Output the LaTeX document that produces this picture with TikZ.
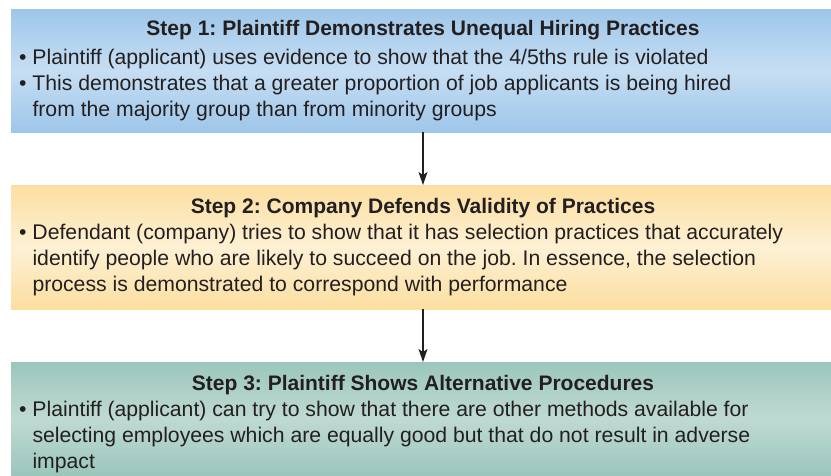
\documentclass[tikz,border=0pt]{standalone}
\usepackage{fontspec}
\setmainfont{Liberation Sans}
\usetikzlibrary{arrows.meta,positioning}
\definecolor{ink}{RGB}{35,31,32}
\definecolor{blueEdge}{RGB}{158,198,233}
\definecolor{blueMid}{RGB}{198,222,243}
\definecolor{sandEdge}{RGB}{252,222,160}
\definecolor{sandMid}{RGB}{253,241,212}
\definecolor{mossEdge}{RGB}{155,198,188}
\definecolor{mossMid}{RGB}{191,218,210}
\frenchspacing

\begin{document}
\begin{tikzpicture}[x=1pt,y=1pt,
  stepbox/.style={anchor=north west,minimum width=820pt,inner sep=0pt,outer sep=0pt},
  steptitle/.style={font=\bfseries\fontsize{21}{25}\selectfont,text=ink,inner sep=0pt,anchor=base},
  stepbody/.style={font=\fontsize{21.2}{26}\selectfont,text=ink,align=left,inner sep=0pt,anchor=north west},
  flow/.style={-{Stealth[length=13pt,width=9pt,inset=3pt]},line width=1.5pt,ink}]
\useasboundingbox (0,0) rectangle (831,-475);

% Step 1
\node[stepbox,minimum height=123pt,top color=blueEdge,bottom color=blueEdge,middle color=blueMid] (s1) at (11,-9) {};
\node[steptitle] (t1) at (423,-35) {Step 1: Plaintiff Demonstrates Unequal Hiring Practices};
\node[stepbody] (b1) at (19,-48.5) {\textbullet\ Plaintiff (applicant) uses evidence to show that the 4/5ths rule is violated\\
  \textbullet\ This demonstrates that a greater proportion of job applicants is being hired\\
  \hphantom{\textbullet\ }from the majority group than from minority groups};

% Step 2
\node[stepbox,minimum height=124pt,top color=sandEdge,bottom color=sandEdge,middle color=sandMid] (s2) at (11,-185) {};
\node[steptitle] (t2) at (423,-213) {Step 2: Company Defends Validity of Practices};
\node[stepbody] (b2) at (19,-224) {\textbullet\ Defendant (company) tries to show that it has selection practices that accurately\\
  \hphantom{\textbullet\ }identify people who are likely to succeed on the job. In essence, the selection\\
  \hphantom{\textbullet\ }process is demonstrated to correspond with performance};

% Step 3
\node[stepbox,minimum height=113pt,top color=mossEdge,bottom color=mossEdge,middle color=mossMid] (s3) at (11,-362) {};
\node[steptitle] (t3) at (423,-390) {Step 3: Plaintiff Shows Alternative Procedures};
\node[stepbody] (b3) at (19,-401) {\textbullet\ Plaintiff (applicant) can try to show that there are other methods available for\\
  \hphantom{\textbullet\ }selecting employees which are equally good but that do not result in adverse\\
  \hphantom{\textbullet\ }impact};

% Arrows
\draw[flow] ([xshift=2pt]s1.south) -- ([xshift=2pt]s2.north);
\draw[flow] ([xshift=2pt]s2.south) -- ([xshift=2pt]s3.north);
\end{tikzpicture}
\end{document}
